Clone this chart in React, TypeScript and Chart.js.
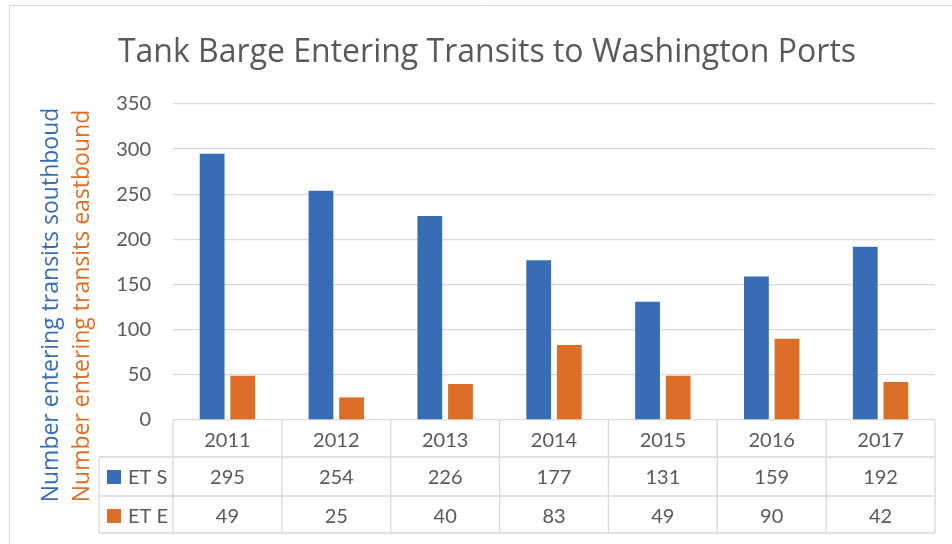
import React, { useEffect, useRef } from "react";
import { Chart, registerables } from "chart.js";

Chart.register(...registerables);

const years = ["2011", "2012", "2013", "2014", "2015", "2016", "2017"];
const etS = [295, 254, 226, 177, 131, 159, 192];
const etE = [49, 25, 40, 83, 49, 90, 42];
const seriesNames = ["ET S", "ET E"];
const yTicks = [0, 50, 100, 150, 200, 250, 300, 350];
const titleText = "Tank Barge Entering Transits to Washington Ports";
const yTitleS = "Number entering transits southboud";
const yTitleE = "Number entering transits eastbound";

const BLUE = "#386DB6";
const ORANGE = "#DC6F28";
const TEXT = "#595959";
const GRID = "#D9D9D9";
const FONT = "Lato";
const TFONT = "'Open Sans'";

const tablePlugin = {
  id: "excelExtras",
  afterDraw(chart: any) {
    const ctx = chart.ctx as CanvasRenderingContext2D;
    const xs = chart.scales.x;
    const area = chart.chartArea;
    const n = years.length;
    const cw = (area.right - area.left) / n;
    const top = area.bottom;
    const r1 = top + 37;
    const r2 = top + 76;
    const bottom = top + 113;
    const legLeft = 99;

    ctx.save();
    // outer border
    ctx.strokeStyle = GRID;
    ctx.lineWidth = 1;
    ctx.beginPath();
    ctx.moveTo(9.5, 544);
    ctx.lineTo(9.5, 5.5);
    ctx.lineTo(952, 5.5);
    ctx.stroke();

    // title
    ctx.fillStyle = TEXT;
    ctx.font = `32px ${TFONT}`;
    ctx.textAlign = "center";
    ctx.textBaseline = "alphabetic";
    ctx.fillText(titleText, 487, 62);

    // axis titles
    ctx.font = `23px ${TFONT}`;
    ctx.save();
    ctx.translate(58, 305);
    ctx.rotate(-Math.PI / 2);
    ctx.fillStyle = BLUE;
    ctx.fillText(yTitleS, 0, 0);
    ctx.restore();
    ctx.save();
    ctx.translate(89, 306);
    ctx.rotate(-Math.PI / 2);
    ctx.fillStyle = ORANGE;
    ctx.fillText(yTitleE, 0, 0);
    ctx.restore();

    // table lines
    ctx.strokeStyle = GRID;
    ctx.lineWidth = 1.3;
    ctx.beginPath();
    for (const y of [r1, r2, bottom]) {
      ctx.moveTo(legLeft, y);
      ctx.lineTo(area.right, y);
    }
    ctx.moveTo(legLeft, r1);
    ctx.lineTo(legLeft, bottom);
    for (let i = 0; i <= n; i++) {
      const x = area.left + i * cw;
      ctx.moveTo(x, top);
      ctx.lineTo(x, bottom);
    }
    ctx.stroke();

    // text
    ctx.fillStyle = TEXT;
    ctx.font = `20px ${FONT}`;
    ctx.textAlign = "center";
    ctx.textBaseline = "alphabetic";
    for (let i = 0; i < n; i++) {
      const cx = xs.getPixelForValue(i);
      ctx.fillText(years[i], cx, top + 27);
      ctx.fillText(String(etS[i]), cx, r1 + 27);
      ctx.fillText(String(etE[i]), cx, r2 + 27);
    }
    // legend keys
    const rows = [
      { y: r1, c: BLUE, t: seriesNames[0] },
      { y: r2, c: ORANGE, t: seriesNames[1] },
    ];
    ctx.textAlign = "left";
    for (const r of rows) {
      ctx.fillStyle = r.c;
      ctx.fillRect(107, r.y + 13, 14, 14);
      ctx.fillStyle = TEXT;
      ctx.fillText(r.t, 128, r.y + 27);
    }
    ctx.restore();
  },
};

export default function App() {
  const ref = useRef<HTMLCanvasElement | null>(null);
  useEffect(() => {
    document.body.style.margin = "0";
    const chart = new Chart(ref.current as HTMLCanvasElement, {
      type: "bar",
      data: {
        labels: years,
        datasets: [
          { label: seriesNames[0], data: etS, backgroundColor: BLUE },
          { label: seriesNames[1], data: etE, backgroundColor: ORANGE },
        ],
      },
      options: {
        responsive: false,
        animation: false,
        devicePixelRatio: 1,
        datasets: { bar: { categoryPercentage: 0.5625, barPercentage: 0.81 } },
        layout: { padding: { top: 104, left: 0, right: 17, bottom: 11 } },
        plugins: { legend: { display: false }, title: { display: false }, tooltip: { enabled: false } },
        scales: {
          x: {
            ticks: { display: false },
            grid: { display: false },
            border: { display: false },
            afterFit: (s: any) => { s.height = 113; },
          },
          y: {
            min: 0,
            max: 350,
            afterBuildTicks: (s: any) => { s.ticks = yTicks.map((v) => ({ value: v })); },
            ticks: { color: TEXT, font: { family: FONT, size: 20 }, padding: 22 },
            grid: { color: GRID, lineWidth: 1.3, drawTicks: false },
            border: { display: false },
            afterFit: (s: any) => { s.width = 173; },
          },
        },
      },
      plugins: [tablePlugin],
    } as any);
    return () => chart.destroy();
  }, []);
  return (
    <div style={{ position: "absolute", left: 0, top: 0, width: 952, height: 544, background: "#fff" }}>
      <canvas ref={ref} width={952} height={544} style={{ display: "block" }} />
    </div>
  );
}
